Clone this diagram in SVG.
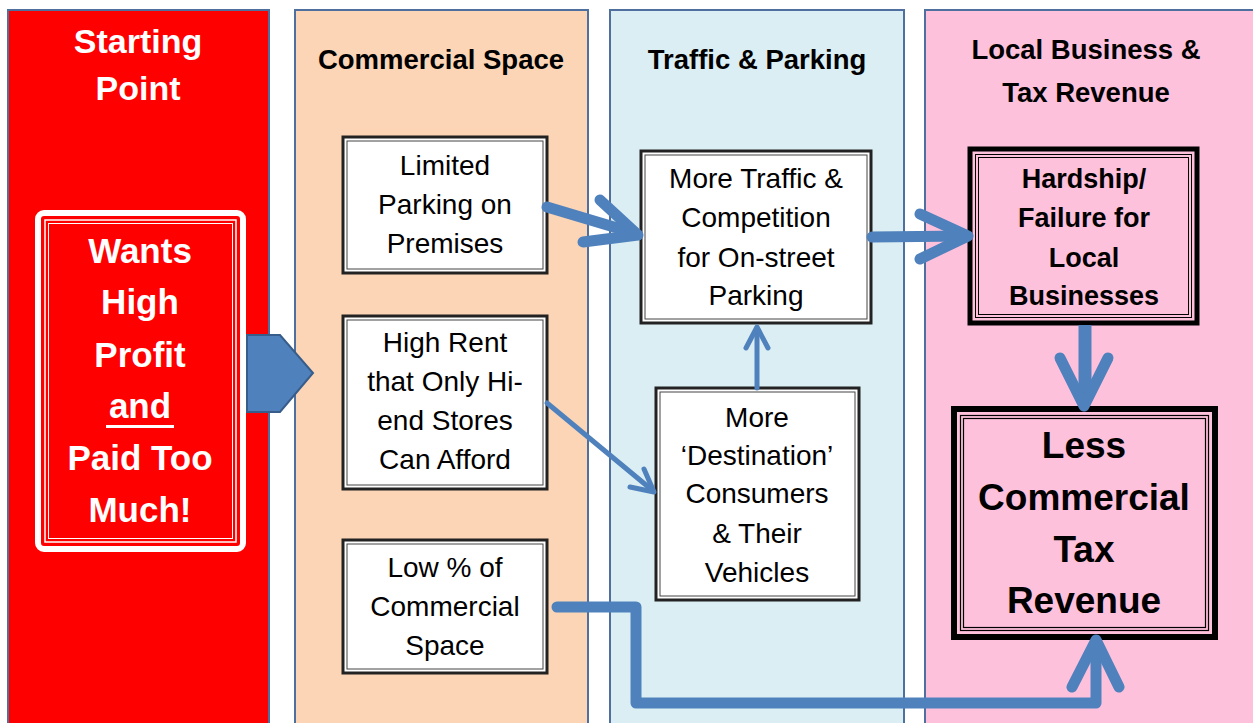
<svg xmlns="http://www.w3.org/2000/svg" width="1253" height="723" viewBox="0 0 1253 723">
  <style>
    .col { stroke: #4F6F9F; stroke-width: 2; }
    .hdr { font-family: "Liberation Sans", Arial, sans-serif; font-weight: bold; font-size: 27.5px; fill: #000; text-anchor: middle; }
    .box-outer { fill: #fff; stroke: #222; stroke-width: 3; }
    .box-inner { fill: none; stroke: #444; stroke-width: 1; }
    .txt { font-family: "Liberation Sans", Arial, sans-serif; font-size: 28px; fill: #000; text-anchor: middle; }
    .btxt { font-family: "Liberation Sans", Arial, sans-serif; font-weight: bold; fill: #000; text-anchor: middle; }
    .wtxt { font-family: "Liberation Sans", Arial, sans-serif; font-weight: bold; fill: #fff; text-anchor: middle; }
    .thick { fill: none; stroke: #4F81BD; stroke-width: 11; stroke-linecap: round; stroke-linejoin: round; }
    .thin { fill: none; stroke: #4F81BD; stroke-width: 5; stroke-linecap: round; stroke-linejoin: round; }
  </style>

  <rect width="1253" height="723" fill="#fff"/>

  <!-- column backgrounds -->
  <g id="col-start">
    <rect class="col" x="8" y="10" width="261" height="720" fill="#FF0000"/>
    <text class="wtxt" font-size="34" x="138" y="53">Starting</text>
    <text class="wtxt" font-size="34" x="138" y="100">Point</text>
  </g>
  <g id="col-commercial">
    <rect class="col" x="295" y="10" width="293" height="720" fill="#FBD5B5"/>
    <text class="hdr" x="441" y="69">Commercial Space</text>
  </g>
  <g id="col-traffic">
    <rect class="col" x="610" y="10" width="294" height="720" fill="#DBEEF3"/>
    <text class="hdr" x="757" y="69">Traffic &amp; Parking</text>
  </g>
  <g id="col-tax">
    <rect class="col" x="925" y="10" width="330" height="720" fill="#FEC1DC"/>
    <text class="hdr" font-size="29" x="1086" y="59">Local Business &amp;</text>
    <text class="hdr" font-size="29" x="1086" y="102">Tax Revenue</text>
  </g>

  <!-- starting node -->
  <g id="node-wants">
    <rect x="38" y="213" width="205" height="336" rx="6" fill="#FF0000" stroke="#fff" stroke-width="6"/>
    <rect x="45" y="220" width="191" height="322" fill="none" stroke="#fff" stroke-width="1.5"/>
    <rect x="48.5" y="223.5" width="184" height="315" fill="none" stroke="#fff" stroke-width="1"/>
    <text class="wtxt" font-size="35" x="140" y="263">Wants</text>
    <text class="wtxt" font-size="35" x="140" y="314">High</text>
    <text class="wtxt" font-size="35" x="140" y="367">Profit</text>
    <text class="wtxt" font-size="35" x="140" y="418">and</text>
    <rect x="106" y="425" width="68" height="3" fill="#fff"/>
    <text class="wtxt" font-size="35" x="140" y="470">Paid Too</text>
    <text class="wtxt" font-size="35" x="140" y="522">Much!</text>
  </g>

  <!-- commercial space nodes -->
  <g id="node-limited">
    <rect class="box-outer" x="343" y="137" width="204" height="136"/>
    <rect class="box-inner" x="347" y="141" width="196" height="128"/>
    <text class="txt" x="445" y="175">Limited</text>
    <text class="txt" x="445" y="214">Parking on</text>
    <text class="txt" x="445" y="253">Premises</text>
  </g>
  <g id="node-rent">
    <rect class="box-outer" x="343" y="316" width="204" height="173"/>
    <rect class="box-inner" x="347" y="320" width="196" height="165"/>
    <text class="txt" x="445" y="352">High Rent</text>
    <text class="txt" x="445" y="391">that Only Hi-</text>
    <text class="txt" x="445" y="430">end Stores</text>
    <text class="txt" x="445" y="469">Can Afford</text>
  </g>
  <g id="node-low">
    <rect class="box-outer" x="343" y="540" width="204" height="133"/>
    <rect class="box-inner" x="347" y="544" width="196" height="125"/>
    <text class="txt" x="445" y="577">Low % of</text>
    <text class="txt" x="445" y="616">Commercial</text>
    <text class="txt" x="445" y="655">Space</text>
  </g>

  <!-- traffic nodes -->
  <g id="node-traffic">
    <rect class="box-outer" x="641" y="151" width="230" height="172"/>
    <rect class="box-inner" x="645" y="155" width="222" height="164"/>
    <text class="txt" x="756" y="188">More Traffic &amp;</text>
    <text class="txt" x="756" y="227">Competition</text>
    <text class="txt" x="756" y="267">for On-street</text>
    <text class="txt" x="756" y="305">Parking</text>
  </g>
  <g id="node-destination">
    <rect class="box-outer" x="656" y="388" width="203" height="212"/>
    <rect class="box-inner" x="660" y="392" width="195" height="204"/>
    <text class="txt" x="757" y="427">More</text>
    <text class="txt" x="757" y="465">‘Destination’</text>
    <text class="txt" x="757" y="503">Consumers</text>
    <text class="txt" x="757" y="543">&amp; Their</text>
    <text class="txt" x="757" y="582">Vehicles</text>
  </g>

  <!-- tax nodes -->
  <g id="node-hardship">
    <rect x="970" y="149" width="227" height="174" fill="#FEC1DC" stroke="#000" stroke-width="5"/>
    <rect x="975.5" y="154.5" width="216" height="163" fill="none" stroke="#000" stroke-width="1"/>
    <rect x="978.5" y="157.5" width="210" height="157" fill="none" stroke="#000" stroke-width="1"/>
    <text class="btxt" font-size="27" x="1084" y="188">Hardship/</text>
    <text class="btxt" font-size="27" x="1084" y="227">Failure for</text>
    <text class="btxt" font-size="27" x="1084" y="267">Local</text>
    <text class="btxt" font-size="27" x="1084" y="305">Businesses</text>
  </g>
  <g id="node-less">
    <rect x="954" y="409" width="261" height="228" fill="#FEC1DC" stroke="#000" stroke-width="6"/>
    <rect x="960.5" y="415.5" width="248" height="215" fill="none" stroke="#000" stroke-width="1.2"/>
    <rect x="963.5" y="418.5" width="242" height="209" fill="none" stroke="#000" stroke-width="1.2"/>
    <text class="btxt" font-size="37" x="1084" y="458">Less</text>
    <text class="btxt" font-size="37" x="1084" y="510">Commercial</text>
    <text class="btxt" font-size="37" x="1084" y="562">Tax</text>
    <text class="btxt" font-size="37" x="1084" y="613">Revenue</text>
  </g>

  <!-- connectors -->
  <g id="connectors">
    <!-- start to commercial space -->
    <polygon points="247,335 280,335 313,373 280,412 247,412" fill="#4F81BD" stroke="#385D8A" stroke-width="2"/>
    <!-- limited parking to traffic -->
    <path class="thick" d="M547,207 L634,233"/>
    <polyline class="thick" points="600,200 638,235 583,242"/>
    <!-- traffic to hardship -->
    <path class="thick" d="M872,237 L965,236"/>
    <polyline class="thick" points="920,214 968,236 920,259"/>
    <!-- hardship to less revenue -->
    <path d="M1085,325 L1085,400" fill="none" stroke="#4F81BD" stroke-width="13"/>
    <polyline class="thick" points="1060,358 1084,406 1108,358"/>
    <!-- high rent to destination -->
    <path class="thin" d="M547,403 L652,490"/>
    <polyline class="thin" points="630,487 654,492 644,469"/>
    <!-- destination to traffic -->
    <path class="thin" d="M757,388 L757,329"/>
    <polyline class="thin" points="746,348 757,327 768,348"/>
    <!-- low share to less revenue -->
    <path class="thick" stroke-linecap="butt" d="M557,607 L636,607 L636,703 L1096,703 L1096,643"/>
    <polyline class="thick" points="1072,687 1096,640 1119,687"/>
  </g>
</svg>
